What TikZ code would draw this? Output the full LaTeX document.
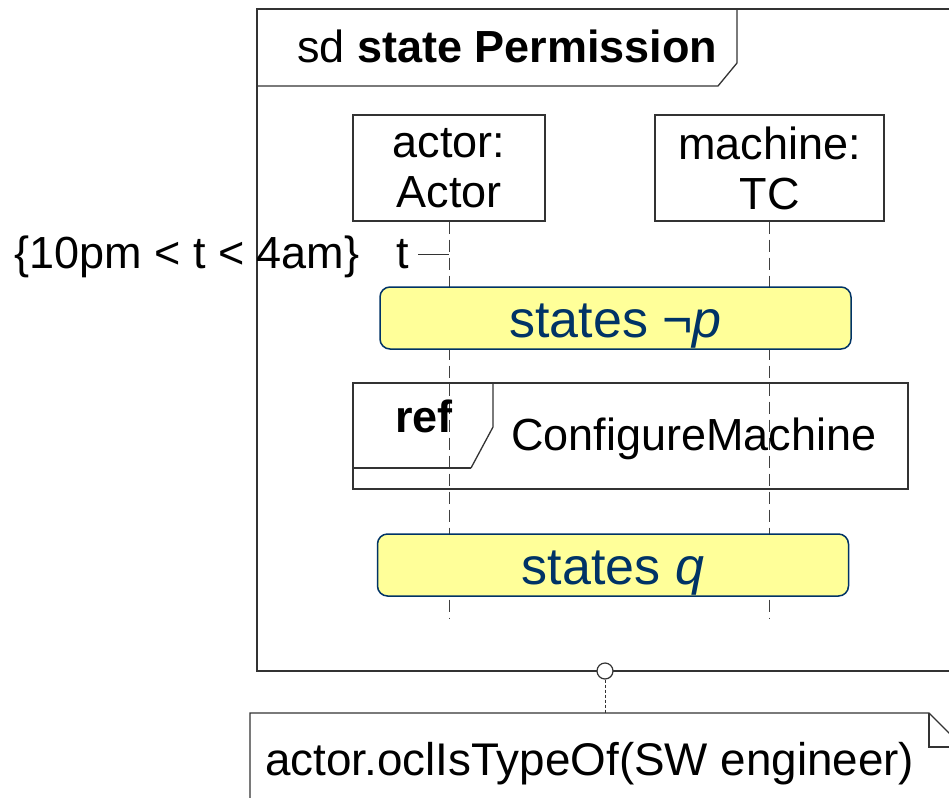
\documentclass[tikz,border=0pt]{standalone}
\usepackage{fontspec}
\setmainfont{Liberation Sans}
\definecolor{stateFill}{HTML}{FFFF99}
\definecolor{stateInk}{HTML}{003366}
\definecolor{lineInk}{HTML}{333333}
\begin{document}
\begin{tikzpicture}[x=1pt,y=-1pt,
  txt/.style={font=\fontsize{45}{50}\selectfont, inner sep=0pt},
  outline/.style={draw=lineInk, line width=1.3pt},
  headbox/.style={outline, minimum width=192pt, minimum height=106pt, inner sep=0pt,
    align=center, font=\fontsize{45}{50}\selectfont},
  lifeline/.style={draw=black!75, line width=1pt, dash pattern=on 12pt off 6pt},
  statebox/.style={draw=stateInk, fill=stateFill, line width=1.5pt, rounded corners=10pt,
    minimum width=471pt, minimum height=62pt, inner sep=0pt, text=stateInk,
    font=\fontsize{52}{56}\selectfont, text height=44pt, text depth=6pt},
  gate/.style={circle, draw=lineInk, fill=white, line width=1.2pt, minimum size=16pt, inner sep=0pt}]
\useasboundingbox (0,0) rectangle (949,797);
\clip (0,0) rectangle (949,797);
\fill[white] (0,0) rectangle (949,797);

% sequence diagram frame (runs off to the right)
\draw[outline] (980,9) -- (257,9) -- (257,671) -- (980,671);
\draw[outline] (257,86) -- (718,86) -- (737,63) -- (737,9);
\node[txt, anchor=base west] (title) at (297,63) {sd \textbf{state Permission}};

% lifeline heads
\node[headbox] (actor) at (449,168) {actor:\\Actor};
\node[headbox, minimum width=229pt] (machine) at (769.5,168) {machine:\\TC};

% lifelines
\coordinate (actorEnd) at (449,618);
\coordinate (machineEnd) at (769.5,618);
\draw[lifeline] (actor.south) -- (actorEnd);
\draw[lifeline] (machine.south) -- (machineEnd);

% time observation
\node[txt, anchor=base west] (tc) at (14,268) {\{10pm < t < 4am\}};
\node[txt, anchor=base west] (tobs) at (396,268) {t};
\coordinate (tmark) at (449,254);
\draw[draw=black!80, line width=1pt] (418,254) -- (tmark);

% state invariants
\node[statebox] (notp) at (615.5,318) {states ¬\textit{p}};
\node[statebox] (q) at (613,565) {states \textit{q}};

% interaction use
\node[outline, minimum width=555pt, minimum height=106pt, inner sep=0pt] (ref) at (630.5,436) {};
\draw[outline] (493,383) -- (493,427) -- (471,468);
\draw[draw=lineInk, line width=2.2pt] (471,468) -- (353,468);
\node[txt, anchor=base west] (reflbl) at (395,432) {\textbf{ref}};
\node[txt, anchor=base west] (refname) at (511,450) {ConfigureMachine};

% constraint note attached to the frame
\node[gate] (gate) at (605,671) {};
\draw[outline] (250,810) -- (250,713) -- (929,713) -- (963,747) -- (963,810);
\draw[outline] (929,713) -- (929,747) -- (963,747);
\coordinate (noteTop) at (605,713);
\draw[draw=black!80, line width=1pt, dash pattern=on 3pt off 2pt] (gate.south) -- (noteTop);
\node[txt, font=\fontsize{45.8}{50}\selectfont, anchor=base west] (note) at (265,775) {actor.oclIsTypeOf(SW engineer)};
\end{tikzpicture}
\end{document}
